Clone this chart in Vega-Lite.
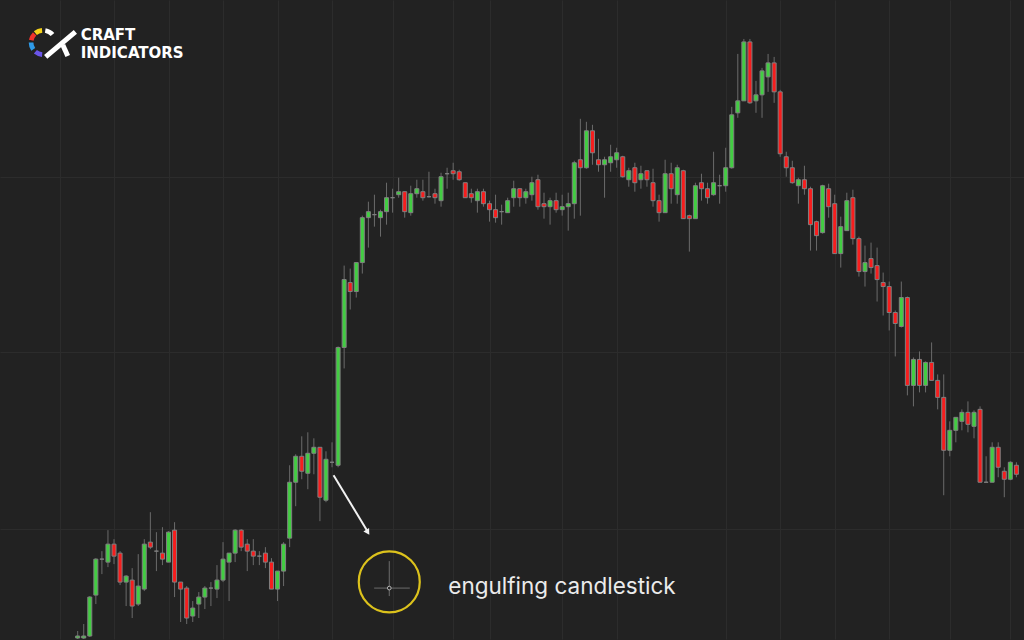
{
  "$schema": "https://vega.github.io/schema/vega-lite/v6.json",
  "width": 1024,
  "height": 640,
  "autosize": {"type": "fit", "contains": "padding"},
  "padding": 0,
  "background": "#222222",
  "config": {
    "view": {"stroke": null},
    "axis": {"labels": false, "ticks": false, "domain": false, "grid": true, "gridColor": "#2c2c2c", "gridWidth": 1, "minExtent": 0, "maxExtent": 0, "offset": 0, "titlePadding": 0, "labelPadding": 0}
  },
  "datasets": {
    "candles": [
      {"t":0,"open":1,"high":8,"low":0,"close":3},
      {"t":1,"open":1,"high":15,"low":0,"close":3},
      {"t":2,"open":3,"high":43,"low":2,"close":42},
      {"t":3,"open":44,"high":81,"low":35,"close":80},
      {"t":4,"open":80,"high":88,"low":65,"close":80},
      {"t":5,"open":77,"high":109,"low":72,"close":95},
      {"t":6,"open":95,"high":100,"low":75,"close":83},
      {"t":7,"open":86,"high":88,"low":54,"close":57},
      {"t":8,"open":57,"high":64,"low":33,"close":63},
      {"t":9,"open":59,"high":71,"low":21,"close":33},
      {"t":10,"open":35,"high":85,"low":33,"close":53},
      {"t":11,"open":50,"high":100,"low":48,"close":95},
      {"t":12,"open":97,"high":127,"low":90,"close":92},
      {"t":13,"open":88,"high":107,"low":68,"close":88},
      {"t":14,"open":86,"high":112,"low":74,"close":80},
      {"t":15,"open":77,"high":108,"low":77,"close":107},
      {"t":16,"open":109,"high":117,"low":42,"close":57},
      {"t":17,"open":57,"high":57,"low":17,"close":50},
      {"t":18,"open":51,"high":53,"low":15,"close":21},
      {"t":19,"open":23,"high":38,"low":17,"close":31},
      {"t":20,"open":35,"high":47,"low":21,"close":42},
      {"t":21,"open":42,"high":53,"low":30,"close":51},
      {"t":22,"open":51,"high":57,"low":33,"close":51},
      {"t":23,"open":50,"high":74,"low":41,"close":59},
      {"t":24,"open":59,"high":97,"low":57,"close":80},
      {"t":25,"open":77,"high":86,"low":38,"close":86},
      {"t":26,"open":86,"high":110,"low":77,"close":109},
      {"t":27,"open":109,"high":110,"low":88,"close":92},
      {"t":28,"open":95,"high":100,"low":68,"close":88},
      {"t":29,"open":88,"high":100,"low":74,"close":83},
      {"t":30,"open":83,"high":88,"low":74,"close":83},
      {"t":31,"open":86,"high":92,"low":71,"close":77},
      {"t":32,"open":77,"high":81,"low":50,"close":50},
      {"t":33,"open":50,"high":68,"low":38,"close":68},
      {"t":34,"open":68,"high":97,"low":53,"close":95},
      {"t":35,"open":101,"high":174,"low":92,"close":157},
      {"t":36,"open":157,"high":185,"low":133,"close":183},
      {"t":37,"open":183,"high":203,"low":160,"close":168},
      {"t":38,"open":166,"high":207,"low":150,"close":186},
      {"t":39,"open":186,"high":201,"low":165,"close":192},
      {"t":40,"open":192,"high":192,"low":118,"close":142},
      {"t":41,"open":139,"high":188,"low":137,"close":180},
      {"t":42,"open":177,"high":197,"low":172,"close":177},
      {"t":43,"open":174,"high":293,"low":172,"close":292},
      {"t":44,"open":292,"high":374,"low":271,"close":360},
      {"t":45,"open":357,"high":371,"low":330,"close":348},
      {"t":46,"open":348,"high":377,"low":342,"close":377},
      {"t":47,"open":377,"high":424,"low":366,"close":422},
      {"t":48,"open":422,"high":438,"low":392,"close":428},
      {"t":49,"open":425,"high":445,"low":413,"close":425},
      {"t":50,"open":422,"high":430,"low":403,"close":428},
      {"t":51,"open":428,"high":457,"low":415,"close":442},
      {"t":52,"open":442,"high":451,"low":427,"close":442},
      {"t":53,"open":445,"high":462,"low":442,"close":448},
      {"t":54,"open":448,"high":448,"low":422,"close":428},
      {"t":55,"open":427,"high":454,"low":424,"close":446},
      {"t":56,"open":446,"high":460,"low":442,"close":451},
      {"t":57,"open":448,"high":460,"low":439,"close":442},
      {"t":58,"open":443,"high":468,"low":442,"close":443},
      {"t":59,"open":446,"high":451,"low":436,"close":442},
      {"t":60,"open":439,"high":467,"low":433,"close":463},
      {"t":61,"open":466,"high":472,"low":451,"close":466},
      {"t":62,"open":469,"high":477,"low":460,"close":466},
      {"t":63,"open":468,"high":470,"low":459,"close":460},
      {"t":64,"open":457,"high":457,"low":442,"close":442},
      {"t":65,"open":446,"high":451,"low":437,"close":442},
      {"t":66,"open":439,"high":451,"low":427,"close":448},
      {"t":67,"open":448,"high":451,"low":433,"close":436},
      {"t":68,"open":436,"high":439,"low":418,"close":430},
      {"t":69,"open":430,"high":445,"low":417,"close":422},
      {"t":70,"open":428,"high":435,"low":415,"close":428},
      {"t":71,"open":427,"high":442,"low":427,"close":439},
      {"t":72,"open":442,"high":459,"low":433,"close":451},
      {"t":73,"open":451,"high":451,"low":433,"close":442},
      {"t":74,"open":442,"high":451,"low":436,"close":448},
      {"t":75,"open":445,"high":463,"low":439,"close":457},
      {"t":76,"open":460,"high":465,"low":430,"close":433},
      {"t":77,"open":436,"high":447,"low":421,"close":433},
      {"t":78,"open":433,"high":442,"low":415,"close":439},
      {"t":79,"open":439,"high":447,"low":427,"close":430},
      {"t":80,"open":430,"high":445,"low":424,"close":433},
      {"t":81,"open":433,"high":447,"low":409,"close":436},
      {"t":82,"open":436,"high":479,"low":421,"close":477},
      {"t":83,"open":480,"high":521,"low":424,"close":472},
      {"t":84,"open":472,"high":518,"low":471,"close":509},
      {"t":85,"open":509,"high":515,"low":475,"close":487},
      {"t":86,"open":480,"high":501,"low":468,"close":475},
      {"t":87,"open":475,"high":483,"low":442,"close":480},
      {"t":88,"open":477,"high":495,"low":468,"close":483},
      {"t":89,"open":480,"high":492,"low":472,"close":487},
      {"t":90,"open":483,"high":484,"low":462,"close":463},
      {"t":91,"open":460,"high":472,"low":453,"close":469},
      {"t":92,"open":472,"high":477,"low":448,"close":457},
      {"t":93,"open":460,"high":474,"low":451,"close":466},
      {"t":94,"open":469,"high":469,"low":453,"close":460},
      {"t":95,"open":457,"high":471,"low":433,"close":439},
      {"t":96,"open":439,"high":445,"low":418,"close":427},
      {"t":97,"open":427,"high":480,"low":427,"close":466},
      {"t":98,"open":466,"high":477,"low":436,"close":451},
      {"t":99,"open":445,"high":475,"low":436,"close":472},
      {"t":100,"open":469,"high":470,"low":421,"close":421},
      {"t":101,"open":424,"high":425,"low":388,"close":421},
      {"t":102,"open":421,"high":457,"low":421,"close":454},
      {"t":103,"open":457,"high":466,"low":439,"close":451},
      {"t":104,"open":451,"high":457,"low":436,"close":442},
      {"t":105,"open":445,"high":488,"low":444,"close":457},
      {"t":106,"open":454,"high":465,"low":436,"close":454},
      {"t":107,"open":454,"high":492,"low":448,"close":472},
      {"t":108,"open":472,"high":533,"low":471,"close":525},
      {"t":109,"open":527,"high":586,"low":522,"close":539},
      {"t":110,"open":539,"high":601,"low":539,"close":598},
      {"t":111,"open":598,"high":601,"low":536,"close":537},
      {"t":112,"open":539,"high":559,"low":527,"close":545},
      {"t":113,"open":545,"high":572,"low":522,"close":569},
      {"t":114,"open":563,"high":586,"low":548,"close":577},
      {"t":115,"open":577,"high":583,"low":537,"close":548},
      {"t":116,"open":548,"high":550,"low":483,"close":486},
      {"t":117,"open":483,"high":488,"low":463,"close":472},
      {"t":118,"open":472,"high":479,"low":456,"close":457},
      {"t":119,"open":454,"high":462,"low":436,"close":460},
      {"t":120,"open":460,"high":474,"low":445,"close":451},
      {"t":121,"open":451,"high":453,"low":389,"close":415},
      {"t":122,"open":418,"high":419,"low":389,"close":404},
      {"t":123,"open":407,"high":455,"low":406,"close":454},
      {"t":124,"open":451,"high":456,"low":422,"close":433},
      {"t":125,"open":436,"high":445,"low":386,"close":386},
      {"t":126,"open":386,"high":423,"low":372,"close":413},
      {"t":127,"open":409,"high":447,"low":409,"close":439},
      {"t":128,"open":442,"high":450,"low":395,"close":401},
      {"t":129,"open":401,"high":403,"low":363,"close":368},
      {"t":130,"open":368,"high":394,"low":353,"close":377},
      {"t":131,"open":381,"high":397,"low":366,"close":372},
      {"t":132,"open":374,"high":392,"low":338,"close":360},
      {"t":133,"open":357,"high":367,"low":324,"close":353},
      {"t":134,"open":353,"high":358,"low":309,"close":327},
      {"t":135,"open":327,"high":329,"low":283,"close":316},
      {"t":136,"open":313,"high":358,"low":312,"close":342},
      {"t":137,"open":342,"high":343,"low":244,"close":254},
      {"t":138,"open":254,"high":282,"low":233,"close":280},
      {"t":139,"open":280,"high":288,"low":247,"close":254},
      {"t":140,"open":254,"high":278,"low":247,"close":277},
      {"t":141,"open":277,"high":297,"low":259,"close":259},
      {"t":142,"open":259,"high":265,"low":230,"close":242},
      {"t":143,"open":242,"high":265,"low":144,"close":189},
      {"t":144,"open":189,"high":218,"low":183,"close":209},
      {"t":145,"open":209,"high":222,"low":197,"close":222},
      {"t":146,"open":218,"high":230,"low":209,"close":227},
      {"t":147,"open":227,"high":238,"low":207,"close":215},
      {"t":148,"open":213,"high":229,"low":201,"close":227},
      {"t":149,"open":230,"high":233,"low":157,"close":157},
      {"t":150,"open":157,"high":183,"low":157,"close":157},
      {"t":151,"open":157,"high":197,"low":157,"close":192},
      {"t":152,"open":192,"high":197,"low":162,"close":172},
      {"t":153,"open":168,"high":172,"low":142,"close":160},
      {"t":154,"open":160,"high":178,"low":159,"close":177},
      {"t":155,"open":174,"high":177,"low":162,"close":165}
    ],
    "arrow": [
      {"t": 42.25, "p": 164},
      {"t": 47.85, "p": 108}
    ],
    "logo": [
      {"part": "diag", "t": -5.28, "p": 583},
      {"part": "diag", "t": -0.38, "p": 608},
      {"part": "leg", "t": -2.45, "p": 595},
      {"part": "leg", "t": -1.64, "p": 584}
    ],
    "one": [{"k": 1}]
  },
  "layer": [
    {
      "data": {"name": "candles"},
      "mark": {"type": "rule", "color": "#6b6b6b", "strokeWidth": 1},
      "encoding": {
        "x": {"field": "t", "type": "quantitative", "title": null,
              "scale": {"domain": [-12, 155.43], "nice": false, "zero": false},
              "axis": {"values": [-3, 6, 15, 24, 33, 42, 52, 62, 68, 80, 89, 107, 116, 125, 134, 144, 154], "title": null}},
        "y": {"field": "high", "type": "quantitative", "title": null,
              "scale": {"domain": [0, 640], "nice": false, "zero": false},
              "axis": {"values": [110, 287, 463], "title": null}},
        "y2": {"field": "low"}
      }
    },
    {
      "data": {"name": "candles"},
      "mark": {"type": "bar", "width": 4, "stroke": "#808080", "strokeWidth": 1},
      "encoding": {
        "x": {"field": "t", "type": "quantitative", "title": null},
        "y": {"field": "open", "type": "quantitative", "title": null},
        "y2": {"field": "close"},
        "color": {"condition": {"test": "datum.close >= datum.open", "value": "#42cd42"}, "value": "#f71d1d"}
      }
    },
    {
      "data": {"name": "arrow"},
      "mark": {"type": "line", "color": "#f2f2f2", "strokeWidth": 2},
      "encoding": {
        "x": {"field": "t", "type": "quantitative", "title": null},
        "y": {"field": "p", "type": "quantitative", "title": null}
      }
    },
    {
      "data": {"name": "one"},
      "mark": {"type": "point", "shape": "triangle-down", "filled": true, "color": "#f2f2f2", "size": 45, "angle": 328, "opacity": 1},
      "encoding": {
        "x": {"datum": 47.9, "type": "quantitative", "title": null},
        "y": {"datum": 107, "type": "quantitative", "title": null}
      }
    },
    {
      "data": {"name": "one"},
      "mark": {"type": "point", "shape": "circle", "filled": false, "stroke": "#dcc21c", "strokeWidth": 2.2, "size": 3721, "opacity": 1},
      "encoding": {
        "x": {"datum": 51.45, "type": "quantitative", "title": null},
        "y": {"datum": 57.2, "type": "quantitative", "title": null}
      }
    },
    {
      "data": {"name": "one"},
      "mark": {"type": "rule", "color": "#6c6c6c", "strokeWidth": 1},
      "encoding": {
        "x": {"datum": 51.45, "type": "quantitative", "title": null},
        "y": {"datum": 78, "type": "quantitative", "title": null},
        "y2": {"datum": 43}
      }
    },
    {
      "data": {"name": "one"},
      "mark": {"type": "rule", "color": "#6c6c6c", "strokeWidth": 1},
      "encoding": {
        "x": {"datum": 48.95, "type": "quantitative", "title": null},
        "x2": {"datum": 54.84},
        "y": {"datum": 51, "type": "quantitative", "title": null}
      }
    },
    {
      "data": {"name": "one"},
      "mark": {"type": "point", "shape": "circle", "filled": true, "fill": "#222222", "stroke": "#b5b5b5", "strokeWidth": 1, "size": 14, "opacity": 1},
      "encoding": {
        "x": {"datum": 51.45, "type": "quantitative", "title": null},
        "y": {"datum": 51, "type": "quantitative", "title": null}
      }
    },
    {
      "data": {"name": "one"},
      "mark": {"type": "text", "text": "engulfing candlestick", "font": "Inter", "fontSize": 22.5, "color": "#ebebeb", "align": "left", "baseline": "alphabetic"},
      "encoding": {
        "x": {"datum": 61.2, "type": "quantitative", "title": null},
        "y": {"datum": 45, "type": "quantitative", "title": null}
      }
    },
    {
      "data": {"name": "one"},
      "mark": {"type": "text", "text": ["CRAFT", "INDICATORS"], "lineHeight": 17.8, "font": "DejaVu Sans", "fontSize": 15, "fontWeight": "bold", "color": "#ffffff", "align": "left", "baseline": "alphabetic"},
      "encoding": {
        "x": {"datum": 0.5, "type": "quantitative", "title": null},
        "y": {"datum": 599.5, "type": "quantitative", "title": null}
      }
    },
    {
      "data": {"name": "one"},
      "mark": {"type": "arc", "radius": 14.5, "radius2": 9.8, "theta": 5.58, "theta2": 6.19, "color": "#f5d21a"},
      "encoding": {
        "x": {"datum": -5.69, "type": "quantitative", "title": null},
        "y": {"datum": 597.5, "type": "quantitative", "title": null}
      }
    },
    {
      "data": {"name": "one"},
      "mark": {"type": "arc", "radius": 14.5, "radius2": 9.8, "theta": 4.89, "theta2": 5.5, "color": "#f0352c"},
      "encoding": {
        "x": {"datum": -5.69, "type": "quantitative", "title": null},
        "y": {"datum": 597.5, "type": "quantitative", "title": null}
      }
    },
    {
      "data": {"name": "one"},
      "mark": {"type": "arc", "radius": 14.5, "radius2": 9.8, "theta": 4.1, "theta2": 4.71, "color": "#2f9be8"},
      "encoding": {
        "x": {"datum": -5.69, "type": "quantitative", "title": null},
        "y": {"datum": 597.5, "type": "quantitative", "title": null}
      }
    },
    {
      "data": {"name": "one"},
      "mark": {"type": "arc", "radius": 14.5, "radius2": 9.8, "theta": 3.23, "theta2": 3.84, "color": "#6a55e8"},
      "encoding": {
        "x": {"datum": -5.69, "type": "quantitative", "title": null},
        "y": {"datum": 597.5, "type": "quantitative", "title": null}
      }
    },
    {
      "data": {"name": "one"},
      "mark": {"type": "arc", "radius": 14.5, "radius2": 9.8, "theta": 0.17, "theta2": 0.87, "color": "#ffffff"},
      "encoding": {
        "x": {"datum": -5.69, "type": "quantitative", "title": null},
        "y": {"datum": 597.5, "type": "quantitative", "title": null}
      }
    },
    {
      "data": {"name": "logo"},
      "mark": {"type": "line", "color": "#ffffff", "strokeWidth": 5, "strokeCap": "butt"},
      "encoding": {
        "x": {"field": "t", "type": "quantitative", "title": null},
        "y": {"field": "p", "type": "quantitative", "title": null},
        "detail": {"field": "part"}
      }
    }
  ]
}
